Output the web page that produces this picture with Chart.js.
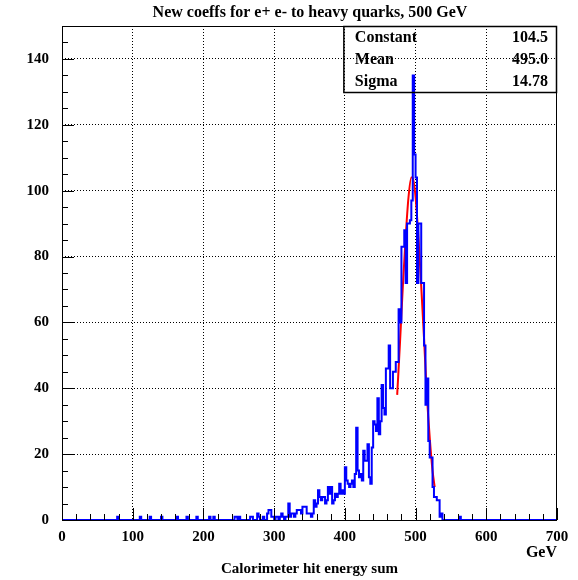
<!DOCTYPE html>
<html>
<head>
<meta charset="utf-8">
<script src="https://cdn.jsdelivr.net/npm/chart.js@4"></script>
<style>
  html, body { margin: 0; padding: 0; background: #fff; }
  #wrap { width: 578px; height: 580px; }
</style>
</head>
<body>
<div id="wrap"><canvas id="histChart" width="578" height="580"></canvas></div>
<script>
// Histogram: 2 GeV bins from 0 to 700 GeV (one row = 20 GeV)
const binStart = 0;
const binWidth = 2;
const counts = [
  0,0,0,0,0,0,0,0,0,0,   // 0
  0,0,0,0,0,0,0,0,0,0,   // 20
  0,0,0,0,0,0,0,0,0,0,   // 40
  0,0,0,0,0,0,0,0,0,1,   // 60
  0,0,0,0,0,0,0,0,0,0,   // 80
  0,0,0,0,0,1,0,0,0,0,   // 100
  0,0,1,0,0,0,0,0,0,0,   // 120
  1,0,0,0,0,0,0,0,0,0,   // 140
  0,1,0,0,0,0,0,0,1,0,   // 160
  0,0,0,0,0,1,0,0,0,0,   // 180
  0,0,0,0,1,0,0,1,0,0,   // 200
  0,0,0,0,0,0,0,0,0,0,   // 220
  0,0,1,1,0,1,0,0,0,0,   // 240
  0,0,0,1,1,0,0,0,2,1,   // 260
  0,0,1,0,0,2,3,3,1,1,   // 280
  0,1,1,0,1,2,1,0,1,1,   // 300
  5,1,2,2,1,2,3,3,3,2,   // 320
  4,4,4,2,2,2,1,2,6,4,   // 340
  5,9,7,6,7,7,5,6,10,8,  // 360
  10,5,6,8,7,8,11,8,9,8, // 380
  16,12,11,10,11,12,10,14,28,15,  // 400
  13,14,12,21,18,18,23,13,11,22,  // 420
  30,29,27,37,26,30,41,34,32,46,  // 440
  46,53,40,40,45,45,48,48,64,60,  // 460
  83,83,88,72,90,90,91,97,135,111, // 480
  104,72,90,90,72,72,53,35,43,24,  // 500
  19,19,10,7,7,6,6,1,2,0,          // 520
  0,0,0,0,0,0,0,0,0,0,   // 540
  0,1,0,0,0,0,0,0,0,0,   // 560
  0,0,0,0,0,0,0,0,0,0,   // 580
  0,0,0,0,0,0,0,0,0,0,   // 600
  0,0,0,0,0,0,0,0,0,0,   // 620
  0,0,0,0,0,0,0,0,0,0,   // 640
  0,0,0,0,0,0,0,0,0,0,   // 660
  0,0,0,0,0,0,0,0,0,0    // 680
];

// Gaussian fit curve
const fitX = [474, 478, 482, 486, 490, 494, 496, 500, 504, 508, 512, 516, 520, 524, 527];
const fitY = [38, 54, 71, 86, 98, 104, 104, 98, 86, 71, 55, 38, 25, 15, 10];

// Stats box
const statNames = ["Constant", "Mean", "Sigma"];
const statValues = ["104.5", "495.0", "14.78"];

const titleText = "New coeffs for e+ e- to heavy quarks, 500 GeV";
const xTitle = "Calorimeter hit energy sum";
const xUnit = "GeV";

const xMin = 0, xMax = 700, xMajor = 100, xMinor = 20;
const yMin = 0, yMax = 150, yMajor = 20, yMinor = 5;

const FONT = "'Liberation Serif', 'Times New Roman', serif";

const histPoints = counts.map((c, i) => ({ x: binStart + i * binWidth, y: c }));
histPoints.push({ x: binStart + counts.length * binWidth, y: counts[counts.length - 1] });

const fitPoints = fitX.map((x, i) => ({ x: x, y: fitY[i] }));

// ROOT style frame, inward ticks, stats box and texts
const rootDecor = {
  id: "rootDecor",
  afterDraw(chart) {
    const { ctx, chartArea: a, scales: { x, y } } = chart;
    ctx.save();
    ctx.strokeStyle = "#000";
    ctx.lineWidth = 1;

    // frame
    ctx.strokeRect(a.left + 0.5, a.top + 0.5, a.right - a.left - 1, a.bottom - a.top);

    // y ticks
    ctx.beginPath();
    for (let v = yMin; v <= yMax; v += yMinor) {
      const py = Math.round(y.getPixelForValue(v)) + 0.5;
      const len = v % yMajor === 0 ? 12 : 6;
      ctx.moveTo(a.left, py);
      ctx.lineTo(a.left + len, py);
    }
    // x ticks
    for (let v = xMin; v <= xMax; v += xMinor) {
      const px = Math.round(x.getPixelForValue(v)) + 0.5;
      const len = v % xMajor === 0 ? 12 : 6;
      ctx.moveTo(px, a.bottom);
      ctx.lineTo(px, a.bottom - len);
    }
    ctx.stroke();

    // stats box
    const bx = x.getPixelForValue(400) - 1;
    ctx.lineWidth = 1.5;
    ctx.strokeRect(bx, a.top + 0.5, a.right - bx - 0.5, 66);
    ctx.fillStyle = "#000";
    ctx.font = "bold 16px " + FONT;
    ctx.textBaseline = "middle";
    statNames.forEach((n, i) => {
      const ty = a.top + 12 + i * 22;
      ctx.textAlign = "left";
      ctx.fillText(n, bx + 11, ty);
      ctx.textAlign = "right";
      ctx.fillText(statValues[i], a.right - 9, ty);
    });

    // title
    ctx.textAlign = "center";
    ctx.font = "bold 16px " + FONT;
    ctx.fillText(titleText, 310, 13);

    // axis title + unit
    ctx.font = "bold 15px " + FONT;
    ctx.fillText(xTitle, (a.left + a.right) / 2, 569);
    ctx.textAlign = "right";
    ctx.font = "bold 16px " + FONT;
    ctx.fillText(xUnit, a.right, 553);
    ctx.restore();
  }
};

new Chart(document.getElementById("histChart"), {
  type: "line",
  data: {
    datasets: [
      {
        data: histPoints,
        borderColor: "#0000ff",
        borderWidth: 2,
        stepped: true,
        pointRadius: 0,
        fill: false,
        borderJoinStyle: "miter"
      },
      {
        data: fitPoints,
        borderColor: "#ff0000",
        borderWidth: 2,
        pointRadius: 0,
        fill: false,
        cubicInterpolationMode: "monotone"
      }
    ]
  },
  options: {
    responsive: false,
    animation: false,
    events: [],
    layout: { padding: { top: 26, right: 21, left: 0, bottom: 0 } },
    plugins: {
      legend: { display: false },
      tooltip: { enabled: false },
      title: { display: false }
    },
    scales: {
      x: {
        type: "linear",
        min: xMin,
        max: xMax,
        afterFit(scale) { scale.height = 60; },
        ticks: {
          stepSize: xMajor,
          includeBounds: false,
          color: "#000",
          padding: 8,
          maxRotation: 0,
          autoSkip: false,
          font: { family: FONT, size: 15, weight: "bold" }
        },
        grid: {
          color: (c) => (c.tick && c.tick.value > xMin && c.tick.value < xMax) ? "#000" : "rgba(0,0,0,0)",
          lineWidth: 1,
          drawTicks: false
        },
        border: { display: false, dash: [1, 2] }
      },
      y: {
        min: yMin,
        max: yMax,
        afterFit(scale) { scale.width = 62; },
        ticks: {
          stepSize: yMajor,
          includeBounds: false,
          color: "#000",
          padding: 13,
          font: { family: FONT, size: 15, weight: "bold" }
        },
        grid: {
          color: (c) => (c.tick && c.tick.value > yMin && c.tick.value < yMax) ? "#000" : "rgba(0,0,0,0)",
          lineWidth: 1,
          drawTicks: false
        },
        border: { display: false, dash: [1, 2] }
      }
    }
  },
  plugins: [rootDecor]
});
</script>
</body>
</html>
